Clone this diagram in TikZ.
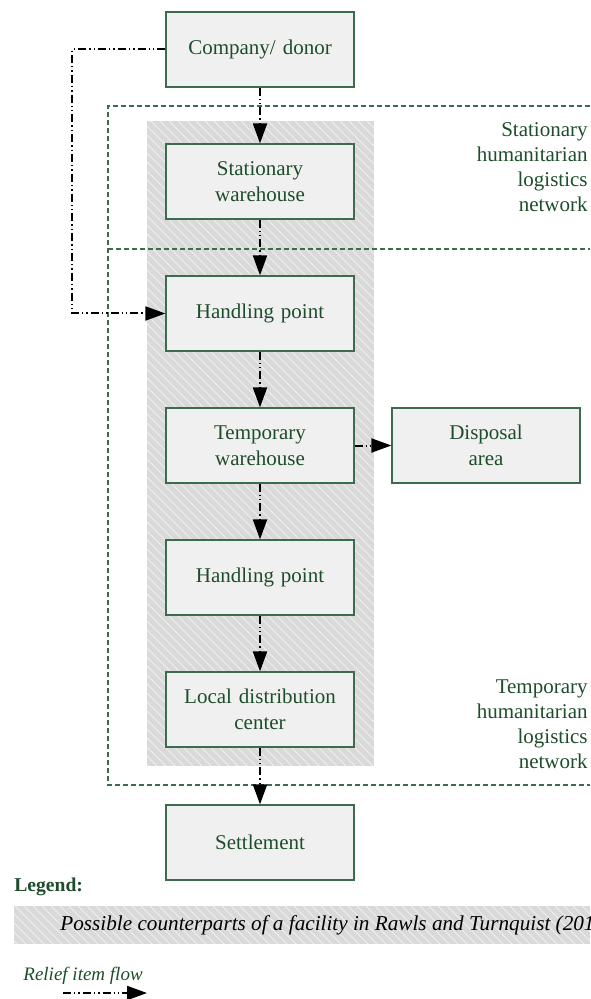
\documentclass[tikz,border=0pt]{standalone}
\usepackage{fontspec}
\setmainfont{Liberation Serif}
\usetikzlibrary{arrows.meta}
\definecolor{boxfill}{HTML}{F0F0F0}
\definecolor{boxline}{HTML}{3E6B4E}
\definecolor{txtgreen}{HTML}{1E4D2B}
\definecolor{zonegray}{HTML}{D9D9D9}
\definecolor{framegreen}{HTML}{3E6B4E}
\begin{document}
\begin{tikzpicture}[x=0.5pt,y=-0.5pt,
  facility/.style={draw=boxline, fill=boxfill, line width=0.6pt,
    minimum width=94pt, minimum height=37.5pt, text width=88pt,
    align=center, text=txtgreen, inner sep=0pt,
    font=\fontsize{10.5}{13}\selectfont},
  flow/.style={line width=1pt,
    dash pattern=on 4pt off 1.5pt on 0.7pt off 1.5pt on 0.7pt off 1.5pt,
    -{Triangle[length=10pt,width=7pt]}},
  netframe/.style={draw=framegreen, line width=0.55pt, dash pattern=on 2.5pt off 1.5pt},
  netlabel/.style={align=right, text=txtgreen, inner sep=0pt, anchor=base east,
    font=\fontsize{10.5}{12.5}\selectfont},
  hatch/.style={white, line width=0.4pt, opacity=0.6}]
\useasboundingbox (0,0) rectangle (590,999);

% shaded column of facilities
\fill[zonegray] (147,121) rectangle (374,766);
\begin{scope}
  \clip (147,121) rectangle (374,766);
  \foreach \i in {-560,-551,...,380} \draw[hatch] (\i,121) -- ++(660,660);
\end{scope}

% network frames
\draw[netframe] (590,106) -- (108,106) -- (108,785) -- (590,785);
\draw[netframe] (108,249) -- (590,249);

% network labels (anchored at the baseline of their last line)
\node[netlabel] (statlbl) at (588,212) {Stationary\\humanitarian\\logistics\\network};
\node[netlabel] (templbl) at (588,768) {Temporary\\humanitarian\\logistics\\network};

% facilities
\node[facility] (donor)  at (260,49.5)  {Company/ donor};
\node[facility] (statwh) at (260,181.5) {Stationary\\warehouse};
\node[facility] (hp1)    at (260,313.5) {Handling point};
\node[facility] (tempwh) at (260,445.5) {Temporary\\warehouse};
\node[facility] (disp)   at (486,445.5) {Disposal\\area};
\node[facility] (hp2)    at (260,577.5) {Handling point};
\node[facility] (ldc)    at (260,709.5) {Local distribution\\center};
\node[facility] (settle) at (260,842.5) {Settlement};

% relief item flows
\draw[flow] (donor) -- (statwh);
\draw[flow] (statwh) -- (hp1);
\draw[flow] (hp1) -- (tempwh);
\draw[flow] (tempwh) -- (disp);
\draw[flow] (tempwh) -- (hp2);
\draw[flow] (hp2) -- (ldc);
\draw[flow] (ldc) -- (settle);
\draw[flow] (donor.west) -- (72,49.5) -- (72,313.5) -- (hp1.west);

% legend
\node[anchor=base west, inner sep=0pt, text=txtgreen,
  font=\fontsize{9.8}{11}\selectfont\bfseries] (legtitle) at (14,891) {Legend:};
\begin{scope}
  \clip (14,906) rectangle (590,944);
  \fill[zonegray] (14,906) rectangle (590,944);
  \foreach \i in {-30,-21,...,590} \draw[hatch] (\i,906) -- ++(40,40);
  \node[anchor=west, inner sep=0pt, font=\fontsize{10.6}{12}\selectfont\itshape]
    (legzone) at (60,925) {Possible counterparts of a facility in Rawls and Turnquist (2010)};
\end{scope}
\node[anchor=base west, inner sep=0pt, text=txtgreen,
  font=\fontsize{9.5}{11}\selectfont\itshape] (legflow) at (23,980) {Relief item flow};
\coordinate (legA) at (63,993);
\coordinate (legB) at (147,993);
\draw[flow] (legA) -- (legB);
\end{tikzpicture}
\end{document}
